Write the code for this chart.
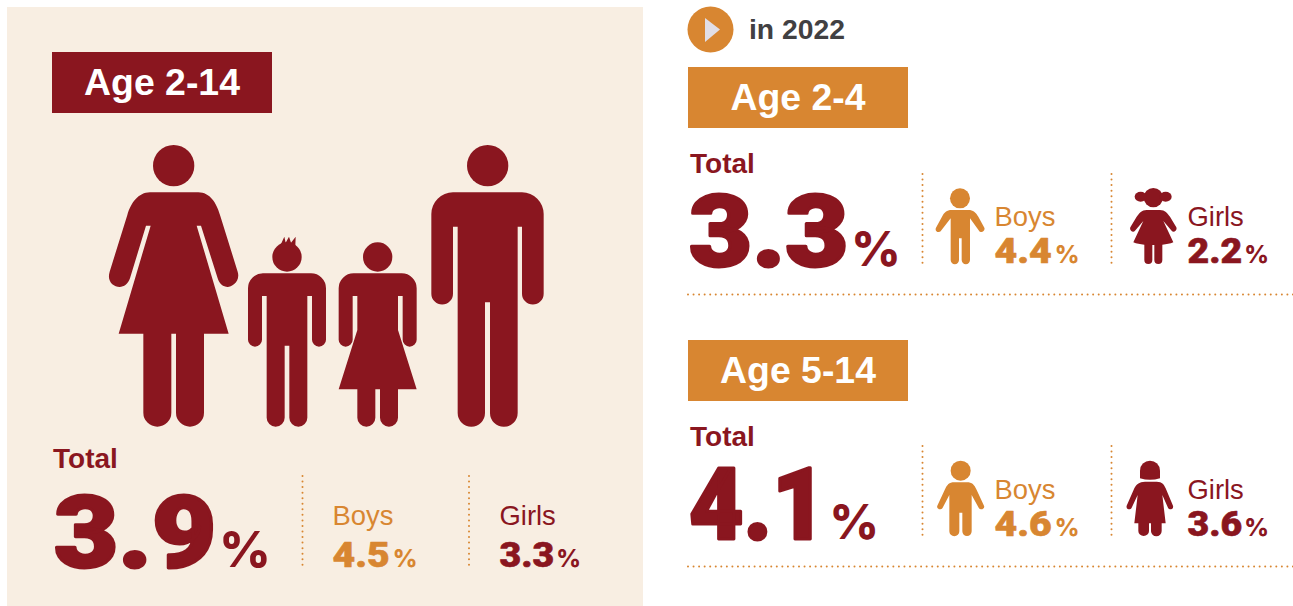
<!DOCTYPE html>
<html>
<head>
<meta charset="utf-8">
<script src="https://cdn.jsdelivr.net/npm/d3@7"></script>
<style>
  html, body { margin: 0; padding: 0; background: #fff; }
  svg { display: block; }
  text { font-family: "Liberation Sans", Arial, sans-serif; }
  .num { font-family: Roboto, sans-serif; font-weight: 900; }
  .pct { font-family: Inter, sans-serif; font-weight: 800; }
</style>
</head>
<body>
<div id="canvas"></div>
<script>
// chart values
var ageGroups = ["Age 2-14", "Age 2-4", "Age 5-14"];
var totals = [3.9, 3.3, 4.1];
var boys = [4.5, 4.4, 4.6];
var girls = [3.3, 2.2, 3.6];
var yearLabel = "in 2022";

var width = 1293,
  height = 606;

var red = "#8a161f",
  orange = "#d88631",
  cream = "#f8eee2";

// icon outlines, traced at 3x so they get drawn with scale(1/3)
var womanPath = "M150,157 L295,157 C330,157 350,190 360,225 L413,395 C422,425 395,441 383,441 C370,441 358,432 353,415 L303,257 L290,257 L386,581 L312,581 L312,818 A42,42 0 0 1 228,818 L228,581 L214,581 L214,818 A42,42 0 0 1 130,818 L130,581 L56,581 L152,257 L138,257 L90,415 C84,432 72,441 59,441 C40,441 20,425 29,395 L82,225 C92,190 115,157 150,157 Z";
var boyPath = "M489,400 L633,400 A45,45 0 0 1 678,445 L678,599 A21,21 0 0 1 636,599 L636,468 L622,468 L622,833 A27,27 0 0 1 568,833 L568,617 L554,617 L554,833 A27,27 0 0 1 500,833 L500,468 L486,468 L486,599 A21,21 0 0 1 444,599 L444,445 A45,45 0 0 1 489,400 Z M543,312 L553,290 L557,308 L567,290 L573,308 L587,290 L586,318 Z";
var girlPath = "M86,400 L230,400 A45,45 0 0 1 275,445 L275,599 A21,21 0 0 1 233,599 L233,468 L219,468 L219,570 L275,748 L219,748 L219,833 A27,27 0 0 1 165,833 L165,748 L151,748 L151,833 A27,27 0 0 1 97,833 L97,748 L41,748 L97,570 L97,468 L83,468 L83,599 A21,21 0 0 1 41,599 L41,445 A45,45 0 0 1 86,400 Z";
var manPath = "M384,157 L591,157 A65,65 0 0 1 656,222 L656,461 A32.5,32.5 0 0 1 591,461 L591,260 L578,260 L578,819 A41.5,41.5 0 0 1 495,819 L495,487 L480,487 L480,819 A41,41 0 0 1 398,819 L398,260 L384,260 L384,461 A32.5,32.5 0 0 1 319,461 L319,222 A65,65 0 0 1 384,157 Z";

var kidBoyA = "M110,135 L160,135 C175,135 182,142 190,155 L208,188 C212,198 198,207 192,197 L165,160 L165,285 A12.5,12.5 0 0 1 140,285 L140,220 L132,220 L132,285 A12.5,12.5 0 0 1 107,285 L107,160 L78,197 C70,207 58,198 63,188 L81,155 C88,142 95,135 110,135 Z";
var kidGirlA = "M695,135 L735,135 C750,135 757,145 765,155 L784,187 C788,197 775,205 770,197 L745,168 L775,232 C765,236 755,238 742,239 L742,285 A12,12 0 0 1 718,285 L718,240 L712,240 L712,285 A12,12 0 0 1 688,285 L688,239 C675,238 665,236 655,232 L685,168 L660,197 C655,205 642,197 646,187 L665,155 C673,145 680,135 695,135 Z";
var kidBoyB = "M118,127 L155,127 C172,127 178,135 184,148 L207,197 C211,208 196,212 191,203 L170,165 L170,274 A14,14 0 0 1 142,274 L142,218 L133,218 L133,274 A15,15 0 0 1 103,274 L103,165 L83,203 C78,212 63,208 67,197 L90,148 C96,135 102,127 118,127 Z";
var kidGirlB = "M690,125 L725,125 C742,125 748,135 752,145 L774,197 C777,208 763,212 759,203 L742,165 L752,250 L740,250 L740,273 A15,15 0 0 1 708,273 L708,250 L702,250 L702,273 A16,15 0 0 1 670,273 L670,250 L658,250 L668,165 L650,203 C646,212 632,208 635,197 L658,145 C662,135 673,125 690,125 Z";

var svg = d3
  .select("#canvas")
  .append("svg")
  .attr("width", width)
  .attr("height", height);

// left panel
svg
  .append("rect")
  .attr("x", 7)
  .attr("y", 7)
  .attr("width", 636)
  .attr("height", 599)
  .attr("fill", cream);

function icon(ox, oy, fill) {
  var g = svg
    .append("g")
    .attr("transform", "translate(" + ox + "," + oy + ") scale(0.33333)")
    .attr("fill", fill);
  return g;
}

var family = icon(100, 140, red);
family.append("path").attr("d", womanPath);
family.append("circle").attr("cx", 221).attr("cy", 77).attr("r", 62);
family.append("path").attr("d", boyPath);
family.append("circle").attr("cx", 561).attr("cy", 351).attr("r", 44);

var family2 = icon(325, 140, red);
family2.append("path").attr("d", girlPath);
family2.append("circle").attr("cx", 158).attr("cy", 351).attr("r", 44);
family2.append("path").attr("d", manPath);
family2.append("circle").attr("cx", 488).attr("cy", 77).attr("r", 62);

var kidsA = icon(915, 165, orange);
kidsA.append("path").attr("d", kidBoyA);
kidsA.append("circle").attr("cx", 135).attr("cy", 100).attr("r", 30);
var kidsA2 = icon(915, 165, red);
kidsA2.append("path").attr("d", kidGirlA);
kidsA2.append("circle").attr("cx", 715).attr("cy", 98).attr("r", 29);
kidsA2.append("ellipse").attr("cx", 677).attr("cy", 95).attr("rx", 18).attr("ry", 15);
kidsA2.append("ellipse").attr("cx", 752).attr("cy", 95).attr("rx", 18).attr("ry", 15);

var kidsB = icon(915, 440, orange);
kidsB.append("path").attr("d", kidBoyB);
kidsB.append("circle").attr("cx", 137).attr("cy", 92).attr("r", 30);
var kidsB2 = icon(915, 440, red);
kidsB2.append("path").attr("d", kidGirlB);
kidsB2.append("path").attr("d", "M675,115 L675,92 A30,30 0 0 1 735,92 L735,115 Q705,124 675,115 Z");

// "in 2022" marker
svg.append("circle").attr("cx", 710.5).attr("cy", 29.5).attr("r", 23).attr("fill", orange);
svg.append("path").attr("d", "M705,18 L720,29.5 L705,42 Z").attr("fill", "#e1deE6");
svg
  .append("text")
  .attr("x", 749)
  .attr("y", 39)
  .attr("font-size", 28.3)
  .attr("font-weight", 700)
  .attr("fill", "#414042")
  .text(yearLabel);

function dotted(x1, y1, x2, y2) {
  svg
    .append("line")
    .attr("x1", x1)
    .attr("y1", y1)
    .attr("x2", x2)
    .attr("y2", y2)
    .attr("stroke", orange)
    .attr("stroke-width", 2)
    .attr("stroke-linecap", "round")
    .attr("stroke-dasharray", "0 5.55");
}

function label(x, y, txt, size, weight, fill, anchor) {
  return svg
    .append("text")
    .attr("x", x)
    .attr("y", y)
    .attr("font-size", size)
    .attr("font-weight", weight)
    .attr("fill", fill)
    .attr("text-anchor", anchor || "start")
    .text(txt);
}

// heavy figure + smaller % sign right after it
function figure(x, y, value, size, sx, weight, pctSize, gap, fill) {
  var num = svg
    .append("text")
    .attr("class", "num")
    .attr("transform", "translate(" + x + "," + y + ") scale(" + sx + ",1)")
    .attr("font-size", size)
    .attr("fill", fill)
    .attr("stroke", fill)
    .attr("stroke-width", weight)
    .attr("stroke-linejoin", "round")
    .text(d3.format(".1f")(value));
  var w = num.node().getComputedTextLength() * sx;
  svg
    .append("text")
    .attr("class", "pct")
    .attr("x", x + w + gap)
    .attr("y", y)
    .attr("font-size", pctSize)
    .attr("fill", fill)
    .text("%");
}

// one block per age group, all laid out from the same numbers
var layout = [
  { badgeX: 52, badgeY: 52, badgeFill: red, totalX: 53, totalY: 468, numX: 54, numY: 566.5, fit: 1.11, pct: 50, gap: 3, col1: 302.5, col2: 469, text1: 332.5, text2: 499.5, boysY: 525, valY: 567, top: 476, bottom: 566 },
  { badgeX: 688, badgeY: 67, badgeFill: orange, totalX: 690, totalY: 173, numX: 689, numY: 265.5, fit: 1.09, pct: 48, gap: 3, col1: 922.5, col2: 1111.5, text1: 994.5, text2: 1187.5, boysY: 226, valY: 263, top: 174, bottom: 264, rule: 294.5 },
  { badgeX: 688, badgeY: 340, badgeFill: orange, totalX: 690, totalY: 446, numX: 689, numY: 538.5, fit: 0.94, pct: 48, gap: 3, col1: 922.5, col2: 1111.5, text1: 994.5, text2: 1187.5, boysY: 499, valY: 536, top: 446, bottom: 536, rule: 566.5 },
];

ageGroups.forEach(function (age, i) {
  var l = layout[i];
  svg
    .append("rect")
    .attr("x", l.badgeX)
    .attr("y", l.badgeY)
    .attr("width", 220)
    .attr("height", 61)
    .attr("fill", l.badgeFill);
  label(l.badgeX + 110, l.badgeY + 43, age, 37.4, 700, "#fff", "middle");
  label(l.totalX, l.totalY, "Total", 28, 700, red);
  figure(l.numX, l.numY, totals[i], 100, l.fit, 3, l.pct, l.gap, red);
  dotted(l.col1, l.top, l.col1, l.bottom);
  dotted(l.col2, l.top, l.col2, l.bottom);
  label(l.text1, l.boysY, "Boys", 27.4, 400, orange);
  label(l.text2, l.boysY, "Girls", 27.4, 400, red);
  figure(l.text1, l.valY, boys[i], 35, 1.12, 0.6, 24, 3, orange);
  figure(l.text2, l.valY, girls[i], 35, 1.07, 0.6, 24, 2, red);
  if (l.rule) dotted(688, l.rule, 1293, l.rule);
});
</script>
</body>
</html>
